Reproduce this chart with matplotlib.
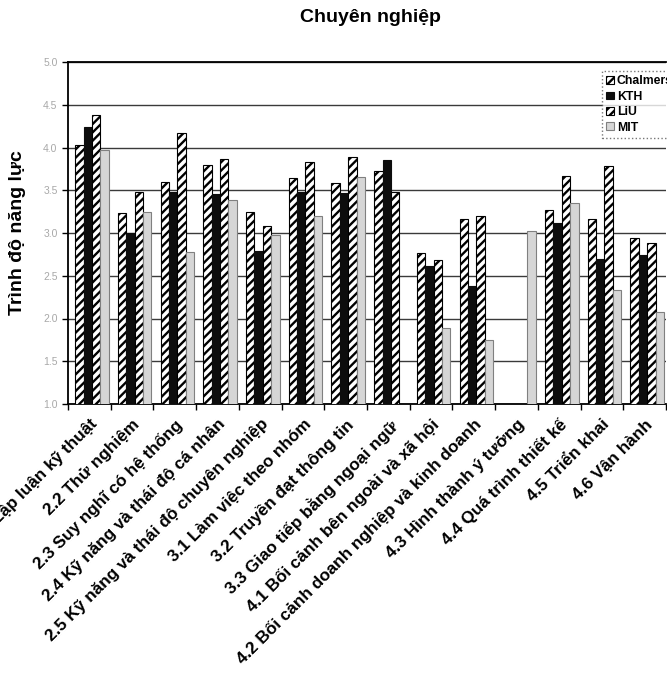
import numpy as np
import matplotlib
matplotlib.use("Agg")
import matplotlib.pyplot as plt
from matplotlib.ticker import FixedLocator, NullFormatter

plt.rcParams['font.family'] = ['Liberation Sans', 'DejaVu Sans']
plt.rcParams['hatch.linewidth'] = 1.7

title = "Chuyên nghiệp"
ylabel = "Trình độ năng lực"

categories = [
    "2.1 Lập luận kỹ thuật",
    "2.2 Thử nghiệm",
    "2.3 Suy nghĩ có hệ thống",
    "2.4 Kỹ năng và thái độ cá nhân",
    "2.5 Kỹ năng và thái độ chuyên nghiệp",
    "3.1 Làm việc theo nhóm",
    "3.2 Truyền đạt thông tin",
    "3.3 Giao tiếp bằng ngoại ngữ",
    "4.1 Bối cảnh bên ngoài và xã hội",
    "4.2 Bối cảnh doanh nghiệp và kinh doanh",
    "4.3 Hình thành ý tưởng",
    "4.4 Quá trình thiết kế",
    "4.5 Triển khai",
    "4.6 Vận hành",
]

series_names = ["Chalmers", "KTH", "LiU", "MIT"]
nan = np.nan
chalmers = [4.03, 3.23, 3.60, 3.80, 3.24, 3.64, 3.58, 3.72, 2.77, 3.16, nan, 3.27, 3.16, 2.94]
kth      = [4.24, 3.00, 3.48, 3.46, 2.79, 3.48, 3.47, 3.85, 2.61, 2.38, nan, 3.12, 2.70, 2.74]
liu      = [4.38, 3.48, 4.17, 3.87, 3.08, 3.83, 3.89, 3.48, 2.68, 3.20, nan, 3.67, 3.78, 2.88]
mit      = [3.97, 3.25, 2.78, 3.39, 2.98, 3.20, 3.66, nan, 1.89, 1.75, 3.02, 3.35, 2.33, 2.08]
series = [chalmers, kth, liu, mit]

yticks = [1.0, 1.5, 2.0, 2.5, 3.0, 3.5, 4.0, 4.5, 5.0]

styles = [
    dict(facecolor="white", edgecolor="black", hatch="////", linewidth=0.8),
    dict(facecolor="#0d0d0d", edgecolor="#0d0d0d", linewidth=0.8),
    dict(facecolor="white", edgecolor="black", hatch="////", linewidth=0.8),
    dict(facecolor="#d6d6d6", edgecolor="#808080", linewidth=0.8),
]

W, H = 667, 677
fig = plt.figure(figsize=(W / 100, H / 100), dpi=100)
ax = fig.add_axes([68 / W, (H - 404) / H, 598 / W, 342 / H])

x = np.arange(len(categories))
bw = 0.197
for j, (vals, st) in enumerate(zip(series, styles)):
    ax.bar(x + (j - 1.5) * bw + 0.06, vals, width=bw, label=series_names[j],
           zorder=3, **st)

ax.set_xlim(-0.5, len(categories) - 0.5)
ax.set_ylim(1.0, 5.0)
ax.set_yticks(yticks)
ax.set_yticklabels([f"{v:.1f}" for v in yticks], color="#a8a8a8", fontsize=7.5)
ax.yaxis.grid(True, color="#3a3a3a", linewidth=1.0, zorder=0)
ax.set_axisbelow(True)

ax.set_xticks(x)
ax.set_xticklabels(categories, rotation=45, ha="right", va="top",
                   rotation_mode="anchor", fontsize=12.3, fontweight="bold")
ax.tick_params(axis="x", which="major", length=0, pad=9)
ax.xaxis.set_minor_locator(FixedLocator(np.arange(-0.5, len(categories), 1.0)))
ax.xaxis.set_minor_formatter(NullFormatter())
ax.tick_params(axis="x", which="minor", length=4, width=1, color="black")
ax.tick_params(axis="y", length=4, width=1, color="black")

ax.spines["right"].set_visible(False)
for s in ["top", "left", "bottom"]:
    ax.spines[s].set_linewidth(1.3)

ax.set_ylabel(ylabel, fontsize=14, fontweight="bold", labelpad=12)

fig.text(370 / W, 1 - 17 / H, title, ha="center", va="center",
         fontsize=14, fontweight="bold")

leg = ax.legend(loc="upper left", bbox_to_anchor=(602 / W, 1 - 71 / H),
                bbox_transform=fig.transFigure,
                prop=dict(weight="bold", size=8.8), handlelength=0.6,
                handleheight=0.6, handletextpad=0.25, labelspacing=0.28,
                borderpad=0.35, borderaxespad=0, frameon=True, fancybox=False)
leg.get_frame().set_edgecolor("#555555")
leg.get_frame().set_linestyle(":")
leg.get_frame().set_linewidth(1.0)

fig.savefig("out.png", dpi=100)
